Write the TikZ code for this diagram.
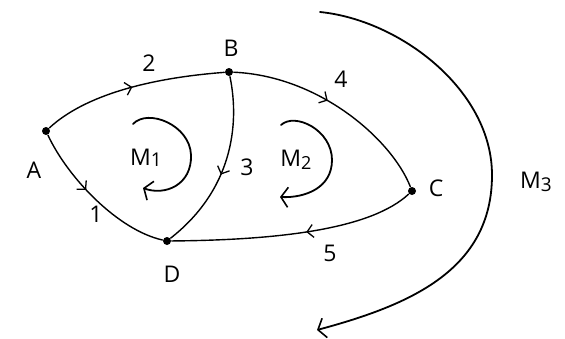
\documentclass[tikz,border=0pt]{standalone}
\usepackage{fontspec}
\setsansfont{Open Sans}
\usetikzlibrary{arrows.meta,decorations.markings}
\begin{document}
\begin{tikzpicture}[x=1pt,y=-1pt,
  line width=1.4pt, line cap=round, line join=round,
  dot/.style={circle,fill=black,inner sep=0pt,minimum size=8pt},
  lbl/.style={inner sep=0pt,font=\sffamily\fontsize{23}{23}\selectfont},
  midarrow/.style={postaction={decorate},decoration={markings,
     mark=at position #1 with {\arrow{Straight Barb[length=6pt,width=13pt,line width=1.3pt]}}}},
  loopend/.style={-{Straight Barb[length=7pt,width=20pt,line width=1.6pt]}},
  loopline/.style={line width=1.8pt}
]
\useasboundingbox (0,0) rectangle (565,338);
% vertices
\node[dot] (A) at (46,131) {};
\node[dot] (B) at (229,72) {};
\node[dot] (C) at (412,191) {};
\node[dot] (D) at (167,241) {};
% vertex labels
\node[lbl] (lA) at (34,170) {A};
\node[lbl] (lB) at (231,48) {B};
\node[lbl] (lC) at (436,188) {C};
\node[lbl] (lD) at (172,274) {D};
% edges
\draw[midarrow=0.5] (A) .. controls (85,95) and (150,78) .. (B);
\draw[midarrow=0.45] (B) .. controls (320,76) and (392,140) .. (C);
\draw[midarrow=0.55] (B) .. controls (240,125) and (232,190) .. (D);
\draw[midarrow=0.42] (A) .. controls (68,178) and (118,230) .. (D);
\draw[midarrow=0.45] (C) .. controls (372,228) and (285,240) .. (D);
% edge labels
\node[lbl] (l2) at (149,63) {2};
\node[lbl] (l4) at (341,79) {4};
\node[lbl] (l3) at (247,167) {3};
\node[lbl] (l1) at (96,214) {1};
\node[lbl] (l5) at (330,253) {5};
% meshes
\node[lbl] (m1) at (146,158) {M\raisebox{-1pt}{\fontsize{19}{19}\selectfont 1}};
\node[lbl] (m2) at (296,160) {M\raisebox{-3pt}{\fontsize{18}{18}\selectfont 2}};
\node[lbl] (m3) at (536,182) {M\raisebox{-3pt}{\fontsize{19}{19}\selectfont 3}};
\coordinate (m1s) at (133,124);
\coordinate (m1e) at (143,188);
\draw[loopline,loopend] (m1s) .. controls (148,108) and (190,125) .. (191,155)
   .. controls (192,185) and (165,196) .. (m1e);
\coordinate (m2s) at (281,125);
\coordinate (m2e) at (280,197);
\draw[loopline,loopend] (m2s) .. controls (295,112) and (332,130) .. (332,160)
   .. controls (332,188) and (305,198) .. (m2e);
\coordinate (m3s) at (320,12);
\coordinate (m3e) at (317,330);
\draw[loopline,loopend] (m3s) .. controls (400,20) and (492,90) .. (492,175)
   .. controls (492,270) and (410,305) .. (m3e);
\end{tikzpicture}
\end{document}
